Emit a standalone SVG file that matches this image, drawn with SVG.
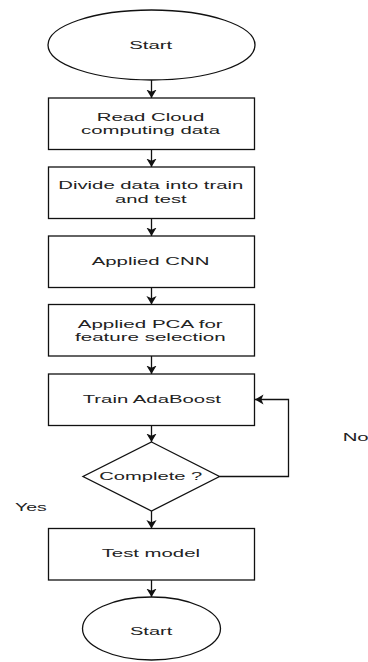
<svg xmlns="http://www.w3.org/2000/svg" width="368" height="662" viewBox="0 0 368 662">
  <style>
    .shape { fill: #ffffff; stroke: #111111; stroke-width: 1.3; }
    .lbl { font-family: "Liberation Sans", Arial, sans-serif; font-size: 11.5px; fill: #222222; }
    .edge { fill: none; stroke: #111111; stroke-width: 1.3; }
  </style>
  <defs>
    <marker id="arrow" viewBox="0 0 10 12" refX="10" refY="6" markerWidth="8.5" markerHeight="11.5" markerUnits="userSpaceOnUse" orient="auto">
      <path d="M0,0 L10,6 L0,12 L2.5,6 Z" fill="#111111"/>
    </marker>
  </defs>
  <rect width="368" height="662" fill="#ffffff"/>

  <g id="connectors">
    <line class="edge" x1="151.5" y1="80" x2="151.5" y2="98" marker-end="url(#arrow)"/>
    <line class="edge" x1="151.5" y1="149.5" x2="151.5" y2="167" marker-end="url(#arrow)"/>
    <line class="edge" x1="151.5" y1="218.5" x2="151.5" y2="236" marker-end="url(#arrow)"/>
    <line class="edge" x1="151.5" y1="287.5" x2="151.5" y2="304.5" marker-end="url(#arrow)"/>
    <line class="edge" x1="151.5" y1="356" x2="151.5" y2="374" marker-end="url(#arrow)"/>
    <line class="edge" x1="151.5" y1="425.5" x2="151.5" y2="442" marker-end="url(#arrow)"/>
    <line class="edge" x1="151.5" y1="511" x2="151.5" y2="528.5" marker-end="url(#arrow)"/>
    <line class="edge" x1="151.5" y1="580" x2="151.5" y2="597" marker-end="url(#arrow)"/>
    <polyline class="edge" points="219.5,476.5 288.5,476.5 288.5,399.5 255,399.5" marker-end="url(#arrow)"/>
  </g>

  <g id="start">
    <ellipse class="shape" cx="151.5" cy="45" rx="103.5" ry="35"/>
    <text class="lbl" x="129.3" y="49.3" textLength="43" lengthAdjust="spacingAndGlyphs">Start</text>
  </g>

  <g id="read-data">
    <rect class="shape" x="48.5" y="98" width="206" height="51.5"/>
    <text class="lbl" x="96.7" y="121" textLength="107.6" lengthAdjust="spacingAndGlyphs">Read Cloud</text>
    <text class="lbl" x="81" y="134.2" textLength="139" lengthAdjust="spacingAndGlyphs">computing data</text>
  </g>

  <g id="split-data">
    <rect class="shape" x="48.5" y="167" width="206" height="51.5"/>
    <text class="lbl" x="58.3" y="189.4" textLength="185" lengthAdjust="spacingAndGlyphs">Divide data into train</text>
    <text class="lbl" x="115" y="202.6" textLength="71.7" lengthAdjust="spacingAndGlyphs">and test</text>
  </g>

  <g id="cnn">
    <rect class="shape" x="48.5" y="236" width="206" height="51.5"/>
    <text class="lbl" x="91.7" y="265" textLength="117.7" lengthAdjust="spacingAndGlyphs">Applied CNN</text>
  </g>

  <g id="pca">
    <rect class="shape" x="48.5" y="304.5" width="206" height="51.5"/>
    <text class="lbl" x="77.7" y="327.6" textLength="145" lengthAdjust="spacingAndGlyphs">Applied PCA for</text>
    <text class="lbl" x="75" y="340.8" textLength="150.7" lengthAdjust="spacingAndGlyphs">feature selection</text>
  </g>

  <g id="train">
    <rect class="shape" x="48.5" y="374" width="206" height="51.5"/>
    <text class="lbl" x="82.7" y="402.7" textLength="138.3" lengthAdjust="spacingAndGlyphs">Train AdaBoost</text>
  </g>

  <g id="complete">
    <polygon class="shape" points="151.5,442 219.5,476.5 151.5,511 83,476.5"/>
    <text class="lbl" x="99.3" y="480" textLength="103" lengthAdjust="spacingAndGlyphs">Complete ?</text>
  </g>

  <g id="labels">
    <text class="lbl" x="15" y="510.7" textLength="31.7" lengthAdjust="spacingAndGlyphs">Yes</text>
    <text class="lbl" x="342.7" y="440.7" textLength="26" lengthAdjust="spacingAndGlyphs">No</text>
  </g>

  <g id="test-model">
    <rect class="shape" x="48.5" y="528.5" width="206" height="51.5"/>
    <text class="lbl" x="101.7" y="557.3" textLength="98.3" lengthAdjust="spacingAndGlyphs">Test model</text>
  </g>

  <g id="end">
    <ellipse class="shape" cx="151.5" cy="628.5" rx="69" ry="31.5"/>
    <text class="lbl" x="130" y="635" textLength="42.3" lengthAdjust="spacingAndGlyphs">Start</text>
  </g>
</svg>
